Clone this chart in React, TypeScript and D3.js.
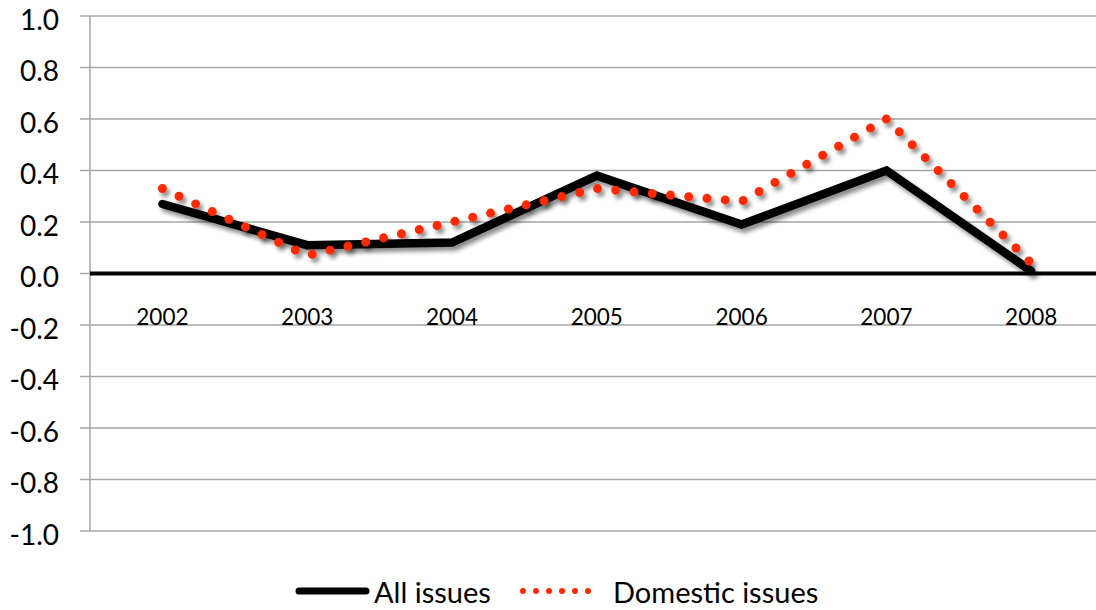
import React from "react";
import * as d3 from "d3";

const years = ["2002", "2003", "2004", "2005", "2006", "2007", "2008"];
const allIssues = [0.27, 0.11, 0.12, 0.38, 0.19, 0.4, 0.01];
const domesticIssues = [0.33, 0.07, 0.2, 0.33, 0.28, 0.6, 0.04];
const yTicks = [1.0, 0.8, 0.6, 0.4, 0.2, 0.0, -0.2, -0.4, -0.6, -0.8, -1.0];

const W = 1096;
const H = 610;
const left = 90;
const step = 144.8;
const FONT = "Lato, 'Open Sans', sans-serif";
const RED = "#ff2a00";

export default function App() {
  const x = d3
    .scaleBand<string>()
    .domain(years)
    .range([left, left + step * years.length])
    .padding(0);
  const cx = (d: string) => (x(d) as number) + x.bandwidth() / 2;
  const y = d3.scaleLinear().domain([-1, 1]).range([531, 16]);

  const line = d3
    .line<number>()
    .x((_, i) => cx(years[i]))
    .y((v) => y(v));

  return (
    <svg
      width={W}
      height={H}
      style={{ position: "absolute", left: 0, top: 0, background: "#fff" }}
      fontFamily={FONT}
    >
      <defs>
        <filter id="shadow" x="-10%" y="-20%" width="120%" height="140%">
          <feDropShadow dx="3" dy="4" stdDeviation="2.2" floodColor="#000" floodOpacity="0.45" />
        </filter>
      </defs>

      {/* horizontal gridlines with left tick marks */}
      {yTicks.map((t) => (
        <g key={t}>
          <line x1={80} x2={W} y1={y(t)} y2={y(t)} stroke="#a6a6a6" strokeWidth={1.5} />
          <text
            x={59}
            y={y(t) + 13.5}
            textAnchor="end"
            fontSize={28}
            fill="#000"
          >
            {t.toFixed(1)}
          </text>
        </g>
      ))}
      <line x1={left} x2={left} y1={y(1)} y2={y(-1)} stroke="#a6a6a6" strokeWidth={1.5} />

      {/* zero axis */}
      <line x1={left} x2={W} y1={y(0)} y2={y(0)} stroke="#000" strokeWidth={4} />

      {/* category labels */}
      {years.map((yr) => (
        <text key={yr} x={cx(yr)} y={325} textAnchor="middle" fontSize={22.5} fill="#000">
          {yr}
        </text>
      ))}

      {/* series */}
      <path
        d={line(allIssues) as string}
        fill="none"
        stroke="#000"
        strokeWidth={8.5}
        strokeLinecap="round"
        strokeLinejoin="miter"
        filter="url(#shadow)"
      />
      <path
        d={line(domesticIssues) as string}
        fill="none"
        stroke={RED}
        strokeWidth={9}
        strokeLinecap="round"
        strokeDasharray="0 18.3"
        filter="url(#shadow)"
      />

      {/* legend */}
      <line x1={299} x2={366} y1={591} y2={591} stroke="#000" strokeWidth={7} strokeLinecap="round" />
      <text x={374} y={603} fontSize={29} fill="#000">
        All issues
      </text>
      <line
        x1={523}
        x2={590}
        y1={591}
        y2={591}
        stroke={RED}
        strokeWidth={6}
        strokeLinecap="round"
        strokeDasharray="0 13"
      />
      <text x={613} y={603} fontSize={29} fill="#000">
        Domestic issues
      </text>
    </svg>
  );
}
